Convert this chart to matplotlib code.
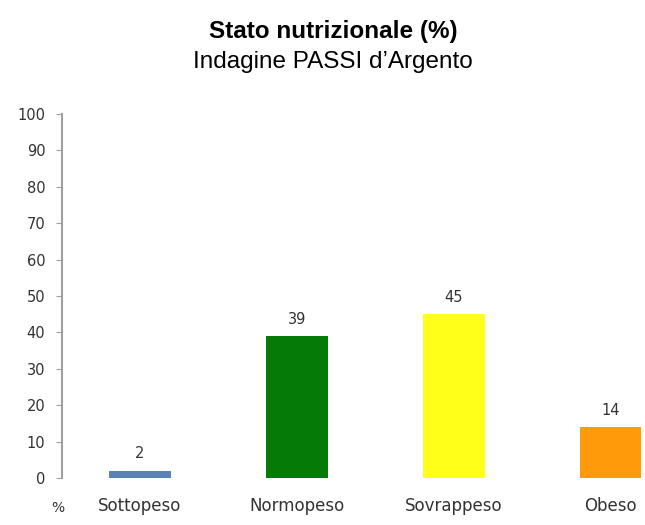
import matplotlib.pyplot as plt
import numpy as np

plt.rcParams['font.family'] = ['DejaVu Sans']

categorie = ['Sottopeso', 'Normopeso', 'Sovrappeso', 'Obeso']
valori = [2, 39, 45, 14]
colori = ['#5b82b5', '#067a06', '#ffff1a', '#ff9a0a']

fig = plt.figure(figsize=(6.45, 5.25), dpi=100)
# assi: y=0 a 478 px dall'alto, y=100 a 114 px
ax = fig.add_axes([62 / 645, 47 / 525, 583 / 645, 364 / 525])

x = np.arange(len(categorie))
bars = ax.bar(x, valori, width=0.395, color=colori)
for b, v in zip(bars, valori):
    ax.text(b.get_x() + b.get_width() / 2, v + 2.6, str(v),
            ha='center', va='bottom', fontsize=10.5, color='#333333')

ax.set_xlim(-0.497, 3.22)
ax.set_ylim(0, 100)
ax.set_yticks(np.arange(0, 101, 10))
ax.set_xticks(x)
ax.set_xticklabels(categorie, fontsize=12, color='#333333')
ax.tick_params(axis='x', length=0, pad=14)
ax.tick_params(axis='y', length=4, color='#a0a0a0', labelsize=10.5,
               labelcolor='#333333', pad=8)
for s in ['top', 'right', 'bottom']:
    ax.spines[s].set_visible(False)
ax.spines['left'].set_color('#a0a0a0')
ax.spines['left'].set_linewidth(1.5)

ax.text(-0.523, -8.2, '%', ha='center', va='center', fontsize=10,
        color='#333333')

fig.text(0.516, 1 - 38 / 525, 'Stato nutrizionale (%)', ha='center',
         va='baseline', fontsize=17.5, fontweight='bold',
         family='Liberation Sans')
fig.text(0.516, 1 - 68 / 525, 'Indagine PASSI d\u2019Argento', ha='center',
         va='baseline', fontsize=17.5, family='Liberation Sans')

fig.savefig('out.png', dpi=100)
